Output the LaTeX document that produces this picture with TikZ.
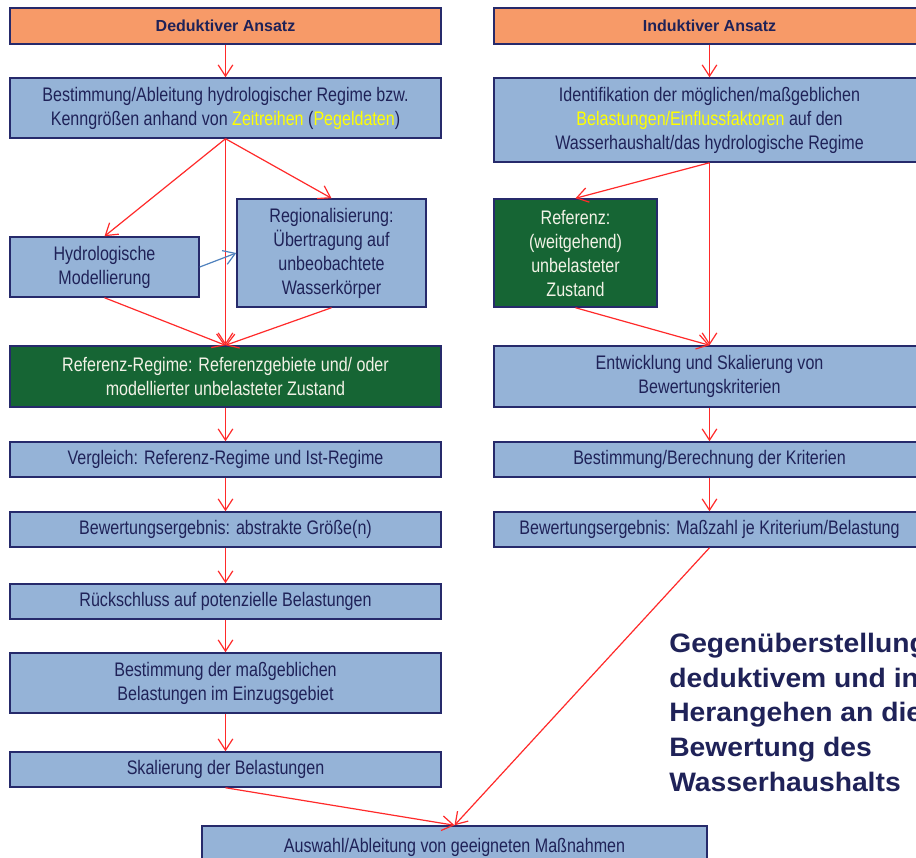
\documentclass[tikz,border=0pt]{standalone}
\usepackage{fontspec}
\setmainfont{Liberation Sans}[FakeStretch=0.82]
\newfontfamily\headfont{Liberation Sans}
\newfontfamily\titlefont{Liberation Sans}[FakeStretch=1.06]
\usetikzlibrary{arrows.meta}
\definecolor{orangefill}{HTML}{F79A68}
\definecolor{bluefill}{HTML}{95B3D7}
\definecolor{greenfill}{HTML}{166534}
\definecolor{navy}{HTML}{262A6B}
\definecolor{navytext}{HTML}{1F2258}
\definecolor{arrowred}{HTML}{FF2A2A}
\definecolor{arrowblue}{HTML}{4F81BD}
\definecolor{hl}{HTML}{FFFF00}
\definecolor{greentext}{HTML}{F2F2E6}
\tikzset{
  wh/.style 2 args={minimum width=#1*0.75pt, minimum height=#2*0.75pt},
  base/.style={draw=navy, line width=1.1pt, inner sep=0pt, align=center,
    font=\fontsize{14.7pt}{18pt}\selectfont, text=navytext},
  headbox/.style={base, fill=orangefill, font={\headfont\bfseries\fontsize{12pt}{14pt}\selectfont}},
  bluebox/.style={base, fill=bluefill},
  greenbox/.style={base, fill=greenfill, text=greentext},
  flow/.style={draw=arrowred, line width=0.9pt, -{Straight Barb[length=8.5pt,width=11pt]}},
  flowb/.style={draw=arrowblue, line width=0.9pt, -{Straight Barb[length=8.5pt,width=11pt]}},
  titletext/.style={font={\titlefont\bfseries\fontsize{20pt}{26pt}\selectfont}, text=navytext, align=left, inner sep=0pt}
}
\begin{document}
\begin{tikzpicture}[x=0.75pt,y=-0.75pt]
\useasboundingbox (0,0) rectangle (916,857);
\clip (0,0) rectangle (916,857);
\fill[white] (0,0) rectangle (916,857);
% left column
\node[headbox,wh={431}{36}] (ded) at (225.5,26) {Deduktiver Ansatz};
\node[bluebox,wh={431}{60}] (best) at (225.5,108) {Bestimmung/Ableitung hydrologischer Regime bzw.\\Kenngrößen anhand von \textcolor{hl}{Zeitreihen} (\textcolor{hl}{Pegeldaten})};
\node[bluebox,wh={189}{60}] (hydro) at (104.5,267) {Hydrologische\\Modellierung};
\node[bluebox,wh={189}{108}] (regio) at (331.5,253) {Regionalisierung:\\Übertragung auf\\unbeobachtete\\Wasserkörper};
\node[greenbox,wh={431}{61}] (refreg) at (225.5,376.5) {Referenz-Regime: Referenzgebiete und/ oder\\modellierter unbelasteter Zustand};
\node[bluebox,wh={431}{35}] (vergl) at (225.5,459.5) {Vergleich: Referenz-Regime und Ist-Regime};
\node[bluebox,wh={431}{35}] (bew1) at (225.5,529.5) {Bewertungsergebnis: abstrakte Größe(n)};
\node[bluebox,wh={431}{35}] (rueck) at (225.5,601.5) {Rückschluss auf potenzielle Belastungen};
\node[bluebox,wh={431}{60}] (bestm) at (225.5,683) {Bestimmung der maßgeblichen\\Belastungen im Einzugsgebiet};
\node[bluebox,wh={431}{35}] (skal) at (225.5,769.5) {Skalierung der Belastungen};
% right column
\node[headbox,wh={431}{36}] (ind) at (709.5,26) {Induktiver Ansatz};
\node[bluebox,wh={431}{84}] (ident) at (709.5,120) {Identifikation der möglichen/maßgeblichen\\\textcolor{hl}{Belastungen/Einflussfaktoren} auf den\\Wasserhaushalt/das hydrologische Regime};
\node[greenbox,wh={163}{108}] (refr) at (575.5,253) {Referenz:\\(weitgehend)\\unbelasteter\\Zustand};
\node[bluebox,wh={431}{61}] (entw) at (709.5,376.5) {Entwicklung und Skalierung von\\Bewertungskriterien};
\node[bluebox,wh={431}{35}] (berech) at (709.5,459.5) {Bestimmung/Berechnung der Kriterien};
\node[bluebox,wh={431}{35}] (bew2) at (709.5,529.5) {Bewertungsergebnis: Maßzahl je Kriterium/Belastung};
% bottom
\node[bluebox,wh={505}{42}] (ausw) at (454.5,847) {Auswahl/Ableitung von geeigneten Maßnahmen};
% title
\node[titletext,anchor=north west] (title) at (669,633) {Gegenüberstellung von\\deduktivem und induktivem\\Herangehen an die\\Bewertung des\\Wasserhaushalts};
% arrows left
\draw[flow] (ded) -- (best);
\draw[flow] (best.south) -- (hydro.north);
\draw[flow] (best.south) -- (regio.north);
\draw[flow] (best.south) -- (refreg.north);
\draw[flow] (hydro.south) -- (refreg.north);
\draw[flow] (regio.south) -- (refreg.north);
\draw[flowb] (hydro.east) -- (regio.west);
\draw[flow] (refreg) -- (vergl);
\draw[flow] (vergl) -- (bew1);
\draw[flow] (bew1) -- (rueck);
\draw[flow] (rueck) -- (bestm);
\draw[flow] (bestm) -- (skal);
\draw[flow] (skal.south) -- (ausw.north);
% arrows right
\draw[flow] (ind) -- (ident);
\draw[flow] (ident.south) -- (refr.north);
\draw[flow] (ident.south) -- (entw.north);
\draw[flow] (refr.south) -- (entw.north);
\draw[flow] (entw) -- (berech);
\draw[flow] (berech) -- (bew2);
\draw[flow] (bew2.south) -- (ausw.north);
\end{tikzpicture}
\end{document}
